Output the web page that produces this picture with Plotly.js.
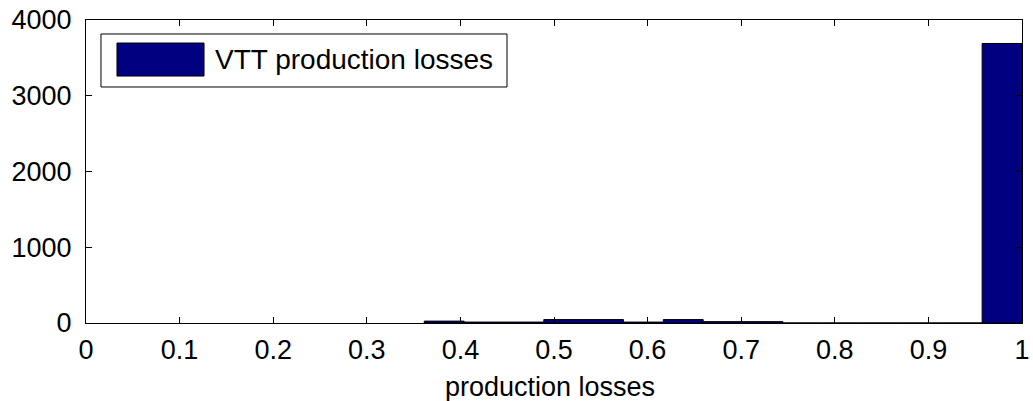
<!DOCTYPE html>
<html>
<head>
<meta charset="utf-8">
<script src="https://cdn.plot.ly/plotly-3.0.1.min.js"></script>
<style>
html,body{margin:0;padding:0;background:#fff;}
#chart{width:1033px;height:401px;}
</style>
</head>
<body>
<div id="chart"></div>
<script>
// Histogram bin centres (15 bins between ~0.361 and 1)
const binCenters = [0.3827, 0.4253, 0.4679, 0.5104, 0.5530, 0.5956, 0.6381, 0.6807, 0.7233, 0.7658, 0.8084, 0.8510, 0.8935, 0.9361, 0.9787];
const binWidth = 0.04257;
// Counts
const counts = [25, 12, 12, 45, 45, 12, 45, 18, 18, 0, 0, 0, 0, 0, 3690];
const seriesName = "VTT production losses";
const xTickVals = [0, 0.1, 0.2, 0.3, 0.4, 0.5, 0.6, 0.7, 0.8, 0.9, 1];
const xTickText = ["0", "0.1", "0.2", "0.3", "0.4", "0.5", "0.6", "0.7", "0.8", "0.9", "1"];
const yTickVals = [0, 1000, 2000, 3000, 4000];
const yTickText = ["0", "1000", "2000", "3000", "4000"];
const xLabel = "production losses";

const barColor = "#000080";
const font = "Liberation Sans, Arial, sans-serif";

const trace = {
  type: "bar",
  x: binCenters,
  y: counts,
  width: binCenters.map(() => binWidth),
  name: seriesName,
  marker: {color: barColor, line: {color: "#000000", width: 1}},
  showlegend: false,
  hoverinfo: "x+y"
};

const layout = {
  width: 1033,
  height: 401,
  margin: {l: 86, r: 11, t: 20, b: 78, pad: 0},
  paper_bgcolor: "#ffffff",
  plot_bgcolor: "#ffffff",
  font: {family: font, size: 27, color: "#000000"},
  bargap: 0,
  xaxis: {
    range: [0, 1],
    tickvals: xTickVals,
    ticktext: xTickText,
    ticks: "inside",
    ticklen: 6,
    tickcolor: "#000000",
    showline: true,
    linecolor: "#000000",
    linewidth: 1,
    mirror: "ticks",
    showgrid: false,
    zeroline: false,
    tickfont: {family: font, size: 27, color: "#000000"},
    ticklabelstandoff: 3
  },
  yaxis: {
    range: [0, 4000],
    tickvals: yTickVals,
    ticktext: yTickText,
    ticks: "inside",
    ticklen: 6,
    tickcolor: "#000000",
    showline: true,
    linecolor: "#000000",
    linewidth: 1,
    mirror: "ticks",
    showgrid: false,
    zeroline: false,
    tickfont: {family: font, size: 27, color: "#000000"},
    ticklabelstandoff: 8
  },
  shapes: [
    {type: "rect", xref: "paper", yref: "paper", x0: 0.016, x1: 0.4498, y0: 0.7789, y1: 0.9538,
     line: {color: "#000000", width: 1}, fillcolor: "#ffffff", layer: "above"},
    {type: "rect", xref: "paper", yref: "paper", x0: 0.0331, x1: 0.1261, y0: 0.815, y1: 0.924,
     line: {color: "#000000", width: 1}, fillcolor: barColor, layer: "above"}
  ],
  annotations: [
    {xref: "paper", yref: "paper", x: 0.1357, y: 0.868, xanchor: "left", yanchor: "middle",
     text: seriesName, showarrow: false, font: {family: font, size: 28, color: "#000000"}},
    {xref: "paper", yref: "paper", x: 0.496, y: -0.211, xanchor: "center", yanchor: "middle",
     text: xLabel, showarrow: false, font: {family: font, size: 27, color: "#000000"}}
  ]
};

Plotly.newPlot("chart", [trace], layout, {displayModeBar: false, staticPlot: true});
</script>
</body>
</html>
